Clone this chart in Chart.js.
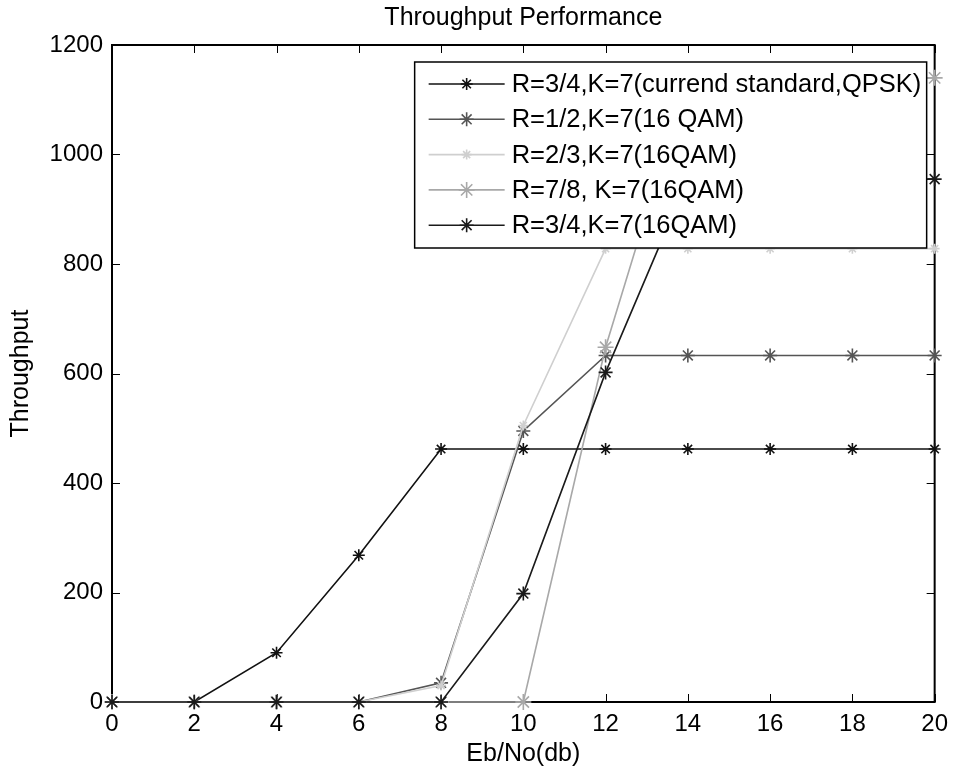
<!DOCTYPE html>
<html>
<head>
<meta charset="utf-8">
<script src="https://cdn.jsdelivr.net/npm/chart.js@4.4.1/dist/chart.umd.min.js"></script>
<style>
html,body{margin:0;padding:0;background:#fff;}
#wrap{width:956px;height:770px;}
</style>
</head>
<body>
<div id="wrap"><canvas id="throughputChart"></canvas></div>
<script>
// Eb/No steps (dB)
const ebno = [0, 2, 4, 6, 8, 10, 12, 14, 16, 18, 20];

// throughput per coding scheme
const qpsk34 = [0, 0, 90, 268, 462, 462, 462, 462, 462, 462, 462];
const qam12 = [0, 0, 0, 0, 35, 495, 633, 633, 633, 633, 633];
const qam23 = [0, 0, 0, 0, 30, 505, 828, 828, 828, 828, 828];
const qam78 = [0, 0, 0, 0, 0, 0, 648, 1140, 1140, 1140, 1140];
const qam34 = [0, 0, 0, 0, 0, 198, 602, 955, 955, 955, 955];

const labels = [
  "R=3/4,K=7(currend standard,QPSK)",
  "R=1/2,K=7(16 QAM)",
  "R=2/3,K=7(16QAM)",
  "R=7/8, K=7(16QAM)",
  "R=3/4,K=7(16QAM)"
];

const xTicks = [0, 2, 4, 6, 8, 10, 12, 14, 16, 18, 20];
const yTicks = [0, 200, 400, 600, 800, 1000, 1200];

const FONT = "'Liberation Sans', Arial, Helvetica, sans-serif";

function series(values, i, color, radius){
  return {
    label: labels[i],
    data: values.map((v, k) => ({x: ebno[k], y: v})),
    borderColor: color,
    borderWidth: 1.6,
    pointStyle: "star",
    pointRadius: radius,
    pointBorderColor: color,
    pointBorderWidth: 1.6,
    pointBackgroundColor: color,
    tension: 0,
    clip: false,
    order: 5 - i
  };
}

// box with inward ticks on all four sides
const frameTicks = {
  id: "frameTicks",
  beforeDatasetsDraw(chart){
    const {ctx, chartArea: a, scales} = chart;
    const len = 8;
    ctx.save();
    ctx.strokeStyle = "#000";
    ctx.lineWidth = 1;
    ctx.beginPath();
    xTicks.forEach(t => {
      const px = Math.round(scales.x.getPixelForValue(t)) + 0.5;
      ctx.moveTo(px, a.bottom); ctx.lineTo(px, a.bottom - len);
      ctx.moveTo(px, a.top); ctx.lineTo(px, a.top + len);
    });
    yTicks.forEach(t => {
      const py = Math.round(scales.y.getPixelForValue(t)) + 0.5;
      ctx.moveTo(a.left, py); ctx.lineTo(a.left + len, py);
      ctx.moveTo(a.right, py); ctx.lineTo(a.right - len, py);
    });
    ctx.stroke();
    ctx.lineWidth = 2;
    ctx.strokeRect(a.left, a.top, a.right - a.left, a.bottom - a.top);
    ctx.restore();
  }
};

// legend box in the upper right of the plot
const boxLegend = {
  id: "boxLegend",
  afterDraw(chart){
    const {ctx, chartArea: a} = chart;
    const right = a.right - 8, top = a.top + 17;
    const w = 512, rowH = 35.3, h = 186;
    const left = right - w;
    ctx.save();
    ctx.fillStyle = "#fff";
    ctx.fillRect(left, top, w, h);
    ctx.strokeStyle = "#000";
    ctx.lineWidth = 1.5;
    ctx.strokeRect(left, top, w, h);
    ctx.font = "25.5px " + FONT;
    ctx.textBaseline = "middle";
    chart.data.datasets.forEach((ds, i) => {
      const y = top + 22 + i * rowH;
      ctx.strokeStyle = ds.borderColor;
      ctx.lineWidth = ds.borderWidth;
      ctx.beginPath();
      ctx.moveTo(left + 14, y);
      ctx.lineTo(left + 90, y);
      ctx.stroke();
      Chart.helpers.drawPoint(ctx, {
        pointStyle: "star", radius: ds.pointRadius, rotation: 0, borderWidth: ds.pointBorderWidth
      }, left + 52, y);
      ctx.fillStyle = "#000";
      ctx.fillText(ds.label, left + 97, y + 1);
    });
    ctx.restore();
  }
};

new Chart(document.getElementById("throughputChart"), {
  type: "line",
  data: {
    datasets: [
      series(qpsk34, 0, "#111111", 6),
      series(qam12, 1, "#555555", 7),
      series(qam23, 2, "#cfcfcf", 5),
      series(qam78, 3, "#a8a8a8", 8),
      series(qam34, 4, "#1a1a1a", 7)
    ]
  },
  options: {
    responsive: true,
    maintainAspectRatio: false,
    animation: false,
    layout: {padding: {left: 0, right: 18, top: 0, bottom: 0}},
    plugins: {
      legend: {display: false},
      tooltip: {enabled: false},
      title: {
        display: true,
        text: "Throughput Performance",
        fullSize: false,
        color: "#000",
        font: {family: FONT, size: 25, weight: "normal", lineHeight: 1.2},
        padding: {top: 3, bottom: 12}
      }
    },
    scales: {
      x: {
        type: "linear",
        min: 0,
        max: 20,
        afterBuildTicks: s => { s.ticks = xTicks.map(v => ({value: v})); },
        afterFit: s => { s.height = 68; },
        grid: {display: false, drawTicks: false},
        border: {display: false},
        ticks: {color: "#000", font: {family: FONT, size: 24}, padding: 8, maxRotation: 0, callback: v => String(v)},
        title: {
          display: true,
          text: "Eb/No(db)",
          color: "#000",
          font: {family: FONT, size: 25},
          padding: {top: 0, bottom: 1}
        }
      },
      y: {
        type: "linear",
        min: 0,
        max: 1200,
        afterBuildTicks: s => { s.ticks = yTicks.map(v => ({value: v})); },
        afterFit: s => { s.width = 112; },
        grid: {display: false, drawTicks: false},
        border: {display: false},
        ticks: {color: "#000", font: {family: FONT, size: 24}, padding: 9, callback: v => String(v)},
        title: {
          display: true,
          text: "Throughput",
          color: "#000",
          font: {family: FONT, size: 25},
          padding: {top: 6, bottom: 0}
        }
      }
    }
  },
  plugins: [frameTicks, boxLegend]
});
</script>
</body>
</html>
